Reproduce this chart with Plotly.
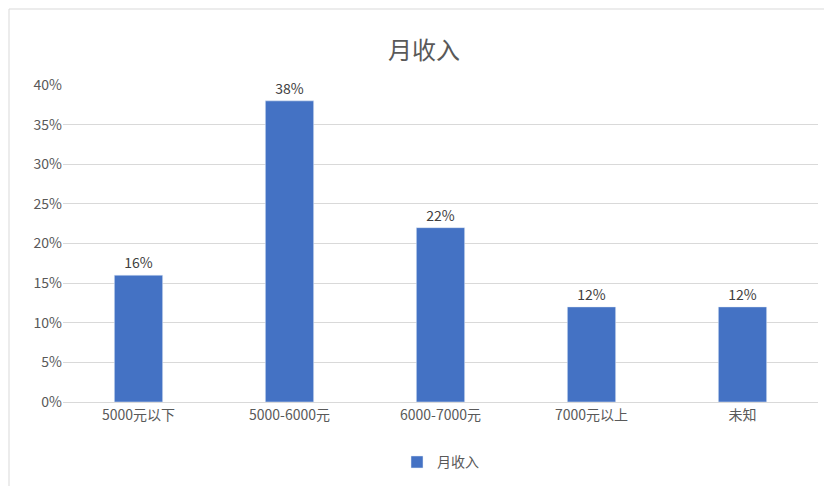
import plotly.graph_objects as go

categories = ["5000元以下", "5000-6000元", "6000-7000元", "7000元以上", "未知"]
values = [0.16, 0.38, 0.22, 0.12, 0.12]
series_name = "月收入"

font = "Noto Sans CJK SC, Noto Sans, sans-serif"

fig = go.Figure()
fig.add_trace(go.Bar(
    x=categories,
    y=values,
    name=series_name,
    marker_color="#4472C4",
    text=[f"{v:.0%}" for v in values],
    textposition="outside",
    textfont=dict(size=14, color="#404040"),
    cliponaxis=False,
    showlegend=True,
))

# plot area in pixels, used for the outer border
L, R, T, B, W, H = 55, 22, 77, 92, 832, 486
pw, ph = W - L - R, H - T - B

fig.update_layout(
    width=W, height=H,
    margin=dict(l=L, r=R, t=T, b=B, autoexpand=False),
    paper_bgcolor="white", plot_bgcolor="white",
    font=dict(family=font, color="#595959", size=14),
    title=dict(text=series_name, x=0.5, xanchor="center", y=0.93,
               font=dict(size=24, color="#595959")),
    bargap=0.68,
    showlegend=True,
    legend=dict(orientation="h", x=0.5, xanchor="center", y=-0.14, yanchor="top",
                font=dict(size=14, color="#595959")),
    xaxis=dict(showgrid=False, showline=True, linecolor="#d9d9d9", ticks="",
               automargin=False, tickfont=dict(size=14, color="#595959")),
    yaxis=dict(range=[0, 0.4], dtick=0.05, tickformat=".0%", showgrid=True,
               gridcolor="#d9d9d9", zeroline=False, ticks="", automargin=False,
               tickfont=dict(size=14, color="#595959")),
    shapes=[dict(type="rect", xref="paper", yref="paper",
                 x0=-(L - 1) / pw, x1=1 + (R - 1) / pw,
                 y0=-(B - 1) / ph, y1=1 + (T - 1) / ph,
                 line=dict(color="#d9d9d9", width=1))],
)

fig.write_html("out.html")
